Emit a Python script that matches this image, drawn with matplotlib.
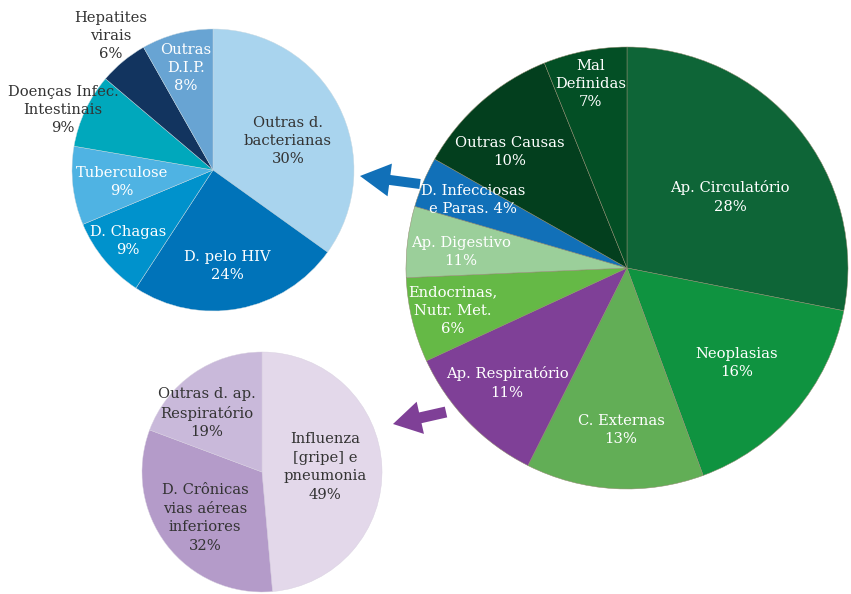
import matplotlib.pyplot as plt
from matplotlib.patches import FancyArrow

plt.rcParams["font.family"] = ["DejaVu Serif"]

# Main pie: causes of death (slice sizes, labels as printed)
main_labels = ["Ap. Circulatório\n28%", "Neoplasias\n16%", "C. Externas\n13%",
               "Ap. Respiratório\n11%", "Endocrinas,\nNutr. Met.\n6%",
               "Ap. Digestivo\n11%", "D. Infecciosas\ne Paras. 4%",
               "Outras Causas\n10%", "Mal\nDefinidas\n7%"]
main_sizes = [28.1, 16.3, 13.0, 10.7, 6.2, 5.2, 3.7, 10.7, 6.1]
main_colors = ["#0e6537", "#0f9340", "#62ae56", "#7f4097", "#65b946",
               "#9bcf9a", "#1170b8", "#033f1e", "#034f25"]

# Infectious diseases breakdown
inf_labels = ["Outras d.\nbacterianas\n30%", "D. pelo HIV\n24%", "D. Chagas\n9%",
              "Tuberculose\n9%", "Doenças Infec.\nIntestinais\n9%",
              "Hepatites\nvirais\n6%", "Outras\nD.I.P.\n8%"]
inf_sizes = [34.9, 24.3, 9.5, 9.0, 8.5, 5.6, 8.2]
inf_colors = ["#a9d4ee", "#0073b9", "#0092cc", "#4fb3e3", "#00a8bc",
              "#12345f", "#68a4d3"]

# Respiratory breakdown
resp_labels = ["Influenza\n[gripe] e\npneumonia\n49%",
               "D. Crônicas\nvias aéreas\ninferiores\n32%",
               "Outras d. ap.\nRespiratório\n19%"]
resp_sizes = [48.6, 32.1, 19.3]
resp_colors = ["#e3d8ea", "#b49bc9", "#c9b9da"]

W, H = 851, 594
fig = plt.figure(figsize=(W / 100, H / 100), dpi=100)
ax = fig.add_axes([0, 0, 1, 1])

# arrows (behind the main pie)
ax.add_patch(FancyArrow(420, 410, -60, 8, width=10, head_width=33, head_length=30,
                        length_includes_head=True, color="#1170b8", lw=0, zorder=0))
ax.add_patch(FancyArrow(446, 182, -53, -12, width=11, head_width=33, head_length=28,
                        length_includes_head=True, color="#7f4097", lw=0, zorder=0))

ax.pie(main_sizes, colors=main_colors, startangle=90, counterclock=False,
       center=(627, H - 268), radius=221, frame=True,
       wedgeprops=dict(edgecolor="#8f8a6e", linewidth=0.35))
ax.pie(inf_sizes, colors=inf_colors, startangle=90, counterclock=False,
       center=(213, H - 170), radius=141, frame=True,
       wedgeprops=dict(edgecolor="#c8d8e0", linewidth=0.3))
ax.pie(resp_sizes, colors=resp_colors, startangle=90, counterclock=False,
       center=(262, H - 472), radius=120, frame=True,
       wedgeprops=dict(edgecolor="#d8d0e0", linewidth=0.3))
ax.set_xlim(0, W)
ax.set_ylim(0, H)
ax.set_aspect("equal")
ax.axis("off")

WHITE = "white"
DARK = "#333333"

# label positions in pixel coords (x, y from top) and colour
main_pos = [(730, 197, WHITE), (737, 363, WHITE), (621, 430, WHITE),
            (507, 383, WHITE), (453, 311, WHITE), (461, 252, WHITE),
            (473, 200, WHITE), (510, 152, WHITE), (591, 84, WHITE)]
inf_pos = [(288, 141, DARK), (227, 266, WHITE), (128, 241, WHITE),
           (122, 182, WHITE), (63, 110, DARK), (111, 36, DARK), (186, 68, WHITE)]
resp_pos = [(325, 467, DARK), (205, 518, DARK), (207, 413, DARK)]

for labels, pos in [(main_labels, main_pos), (inf_labels, inf_pos),
                    (resp_labels, resp_pos)]:
    for lab, (x, y, c) in zip(labels, pos):
        ax.text(x, H - y, lab, ha="center", va="center", color=c,
                fontsize=10.6, linespacing=1.4, zorder=5)

fig.savefig("out.png", dpi=100)
